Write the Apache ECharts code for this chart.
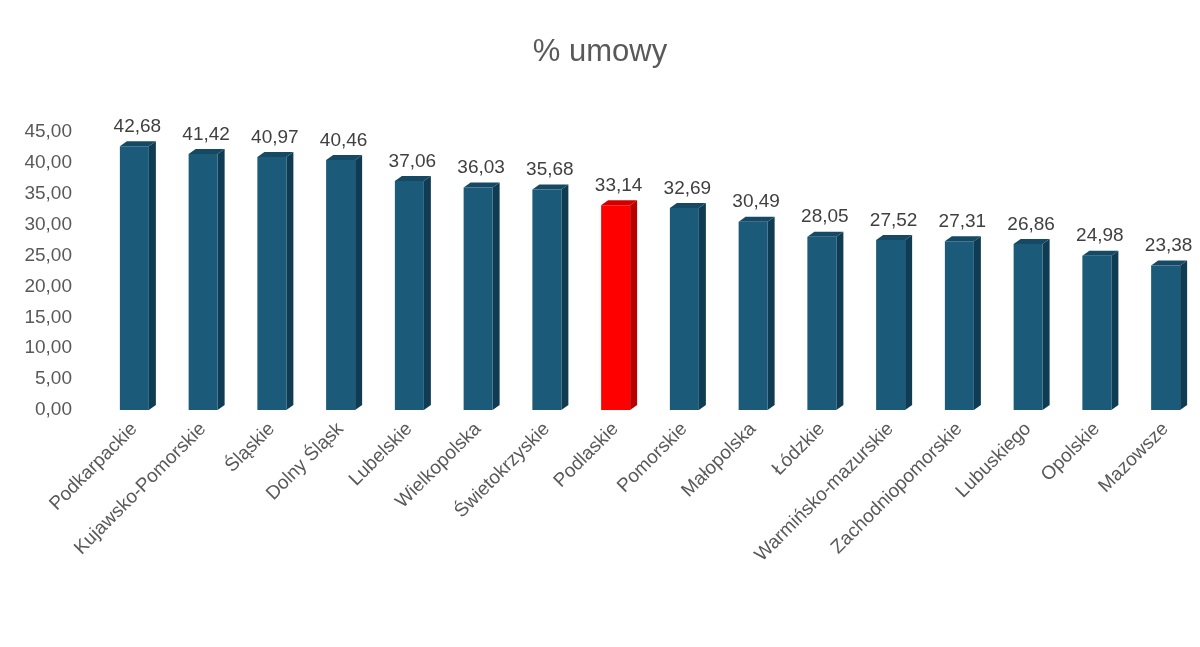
<!DOCTYPE html>
<html>
<head>
<meta charset="utf-8">
<script src="https://cdn.jsdelivr.net/npm/echarts@6/dist/echarts.min.js"></script>
<style>
  html, body { margin: 0; padding: 0; background: #fff; }
  #chart { width: 1200px; height: 647px; }
</style>
</head>
<body>
<div id="chart"></div>
<script>
var regiony = ["Podkarpackie", "Kujawsko-Pomorskie", "Śląskie", "Dolny Śląsk", "Lubelskie",
  "Wielkopolska", "Świetokrzyskie", "Podlaskie", "Pomorskie", "Małopolska", "Łódzkie",
  "Warmińsko-mazurskie", "Zachodniopomorskie", "Lubuskiego", "Opolskie", "Mazowsze"];
var umowy = [42.68, 41.42, 40.97, 40.46, 37.06, 36.03, 35.68, 33.14, 32.69, 30.49, 28.05,
  27.52, 27.31, 26.86, 24.98, 23.38];
var wyrozniony = "Podlaskie";

function fmt(v) { return v.toFixed(2).replace(".", ","); }

var chart = echarts.init(document.querySelector("#chart"));

function renderBar(params, api) {
  var top = api.coord([api.value(0), api.value(1)]);
  var base = api.coord([api.value(0), 0]);
  var w = 29, d = 7, h = 5;
  var x0 = top[0] - w / 2, x1 = top[0] + w / 2;
  var red = regiony[params.dataIndex] === wyrozniony;
  var front = red ? "#ff0000" : "#1b5a78";
  var side = red ? "#b80000" : "#0f3c52";
  var cap = red ? "#d00000" : "#164a64";
  return {
    type: "group",
    children: [
      { type: "polygon", shape: { points: [[x1, top[1]], [x1 + d, top[1] - h], [x1 + d, base[1] - h], [x1, base[1]]] }, style: { fill: side } },
      { type: "polygon", shape: { points: [[x0, top[1]], [x0 + d, top[1] - h], [x1 + d, top[1] - h], [x1, top[1]]] }, style: { fill: cap } },
      { type: "rect", shape: { x: x0, y: top[1], width: w, height: base[1] - top[1] }, style: { fill: front } },
      { type: "text", x: top[0] + 3, y: top[1] - 10, style: { text: fmt(api.value(1)), fill: "#404040", font: "19px 'Liberation Sans', Arial", align: "center", verticalAlign: "bottom" } }
    ]
  };
}

chart.setOption({
  animation: false,
  title: {
    text: "% umowy", left: "center", top: 32,
    textStyle: { fontSize: 31, fontWeight: "normal", color: "#595959", fontFamily: "Liberation Sans, Arial" }
  },
  grid: { left: 100, top: 132, width: 1123, height: 278, containLabel: false },
  xAxis: {
    type: "category", data: regiony,
    axisLine: { show: false }, axisTick: { show: false },
    axisLabel: { rotate: 45, interval: 0, fontSize: 19, color: "#595959", fontFamily: "Liberation Sans, Arial", margin: 16 }
  },
  yAxis: {
    type: "value", min: 0, max: 45, interval: 5,
    splitLine: { show: false }, axisLine: { show: false }, axisTick: { show: false },
    axisLabel: { formatter: fmt, fontSize: 19, color: "#595959", fontFamily: "Liberation Sans, Arial", margin: 28 }
  },
  series: [{
    type: "custom",
    renderItem: renderBar,
    encode: { x: 0, y: 1 },
    data: umowy.map(function (v, i) { return [i, v]; })
  }]
});
</script>
</body>
</html>
